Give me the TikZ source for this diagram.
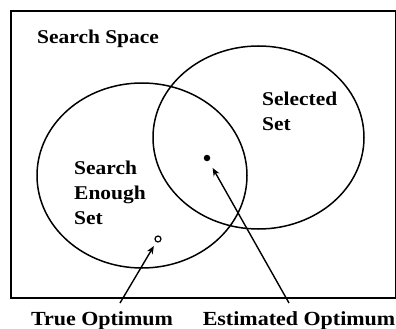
\documentclass[tikz,border=0pt]{standalone}
\usepackage{fontspec}
\setmainfont{Liberation Serif}[BoldFont={Liberation Serif Bold}]
\usetikzlibrary{shapes.geometric, arrows.meta, positioning}
\newcommand{\wide}[1]{\scalebox{1.1}[1]{#1}}

\begin{document}
\begin{tikzpicture}[x=1pt, y=-1pt,
  setbox/.style={ellipse, draw, line width=1.5pt, inner sep=0pt},
  lab/.style={font=\fontsize{19.5}{25}\selectfont\bfseries, align=left, inner sep=0pt},
  optlab/.style={font=\fontsize{20}{22}\selectfont\bfseries, inner sep=0pt},
  arrow/.style={-{Stealth[length=8pt, width=6.5pt]}, line width=1.4pt},
]
  \useasboundingbox (0,0) rectangle (396,329);

  \node[draw, line width=2pt, minimum width=385pt, minimum height=287pt,
        inner sep=0pt, anchor=north west] (space) at (10,10) {};

  \node[setbox, minimum width=210pt, minimum height=185pt] (enough) at (142,175.5) {};
  \node[setbox, minimum width=211pt, minimum height=183pt] (selected) at (258.5,137.5) {};

  \node[lab, anchor=base west] (spacelab) at (37,43.5) {\wide{Search Space}};
  \node[lab, anchor=north west] (sellab) at (262,92) {\wide{Selected}\\\wide{Set}};
  \node[lab, anchor=north west] (enlab) at (74,161) {\wide{Search}\\\wide{Enough}\\\wide{Set}};

  \node[circle, fill, inner sep=0pt, minimum size=6.5pt] (estdot) at (207,158) {};
  \node[circle, draw, fill=white, line width=1.2pt, inner sep=0pt, minimum size=6pt] (truedot) at (158,239) {};

  \node[optlab, anchor=base] (trueopt) at (102,325) {\wide{True Optimum}};
  \node[optlab, anchor=base] (estopt) at (299,325) {\wide{Estimated Optimum}};

  \coordinate (truestart) at (120,303);
  \coordinate (eststart) at (289,303);
  \draw[arrow, shorten >=4.5pt] (truestart) -- (truedot);
  \draw[arrow, shorten >=8pt] (eststart) -- (estdot);
\end{tikzpicture}
\end{document}
